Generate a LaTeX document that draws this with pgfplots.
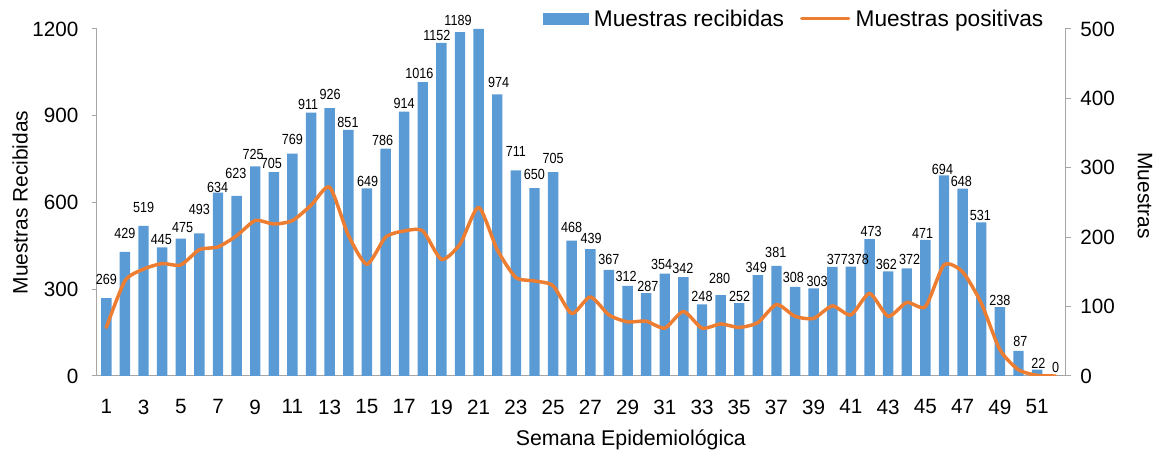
\documentclass[border=0pt]{standalone}
\usepackage{fontspec}
\setmainfont{Liberation Sans}
\newfontfamily\narrowfont[FakeStretch=0.86]{Liberation Sans}
\usepackage{pgfplots}
\usepackage{pgfplotstable}
\pgfplotsset{compat=1.18}
\definecolor{barblue}{HTML}{5B9BD5}
\definecolor{lineorange}{HTML}{ED7D31}
\definecolor{axgray}{HTML}{A6A6A6}
\pgfplotsset{/pgf/number format/assume math mode=true, /pgf/number format/1000 sep={}}

\pgfplotstableread{
wk rec pos dx dy
1 269 70 0 13.2
2 429 137 0 12.6
3 519 154 0 12.6
4 445 162 -0.8 2.3
5 475 160 1.8 5.3
6 493 182 0 18.4
7 634 186 -0.4 0
8 623 202 -0.7 16.5
9 725 224 -2 6.4
10 705 219 -2.5 2.8
11 769 224 0 9
12 911 246 -3 2.6
13 926 272 0.5 8.6
14 851 203 -0.3 2.4
15 649 161 0.6 1.6
16 786 200 -2.8 2.7
17 914 209 0 2.4
18 1016 209 -3.3 2.9
19 1152 168 -4.5 1.9
20 1189 190 -2 6.5
21 1200 243 0 0
22 974 182 1.3 6.1
23 711 142 0 13.7
24 650 137 0 8
25 705 130 0 8.1
26 468 90 0 8
27 439 114 0.8 4.8
28 367 88 0 4.9
29 312 78 -1.4 4.1
30 287 79 1.7 1.3
31 354 69 -3.2 3.6
32 342 93 -0.5 3.1
33 248 69 0 2.6
34 280 75 -1 10.7
35 252 70 0.4 1.4
36 349 77 -1.6 1.8
37 381 103 -0.7 7.5
38 308 86 -1.6 3.6
39 303 83 3.5 1.7
40 377 101 5 2
41 378 88 7.5 2
42 473 119 1.5 1.9
43 362 86 -1.7 1.3
44 372 106 2.8 3.4
45 471 100 -2.8 1.5
46 694 160 -1.5 0.3
47 648 150 -1.2 1.3
48 531 105 -0.8 1.8
49 238 38 0 1.2
50 87 9 1.8 3.5
51 22 1 1.3 1.3
52 0 0 0 3.3
}\datatable

\begin{document}
\begin{tikzpicture}
\useasboundingbox (-72.75pt,-60pt) rectangle (797.25pt,282pt);
\begin{axis}[
  at={(0pt,0pt)}, anchor=south west,
  scale only axis, width=726pt, height=260.25pt,
  xmin=0.5, xmax=52.5, ymin=0, ymax=1200,
  clip=false,
  axis x line*=bottom, axis y line*=left,
  axis line style={axgray, line width=0.75pt, -},
  xtick={1,3,...,51}, xtick style={draw=none},
  minor xtick={0.5,1.5,...,52.5},
  minor tick style={axgray, line width=0.75pt},
  minor tick length=5pt,
  ytick={0,300,...,1200},
  ytick style={axgray, line width=0.75pt},
  major tick length=3.75pt,
  tick align=outside,
  tick label style={font=\fontsize{15.5}{15.5}\selectfont, text=black},
  yticklabel style={xshift=-6.75pt},
  xticklabel style={yshift=-10.5pt},
  ylabel={Muestras Recibidas},
  ylabel style={at={(axis description cs:-0.0795,0.5)}, anchor=center, font=\fontsize{15.7}{15.7}\selectfont},
  xlabel={Semana Epidemiológica},
  xlabel style={at={(axis description cs:0.5515,-0.184)}, anchor=center, font=\fontsize{16}{16}\selectfont},
]
\addplot[ybar, bar width=0.56, fill=barblue, draw=none] table[x=wk, y=rec] {\datatable};
\addplot[draw=none, mark=none,
  skip coords between index={20}{21},
  nodes near coords={\pgfmathprintnumber[fixed,precision=0,1000 sep={},assume math mode=true]{\pgfplotspointmeta}},
  point meta=explicit,
  nodes near coords style={font=\narrowfont\fontsize{11}{11}\selectfont, text=black, anchor=south, inner sep=0pt},
  ] table[x expr=\thisrow{wk}+\thisrow{dx}/18.615, y expr=\thisrow{rec}+\thisrow{dy}*3.458, meta=rec] {\datatable};
\end{axis}
\begin{axis}[
  at={(0pt,0pt)}, anchor=south west,
  scale only axis, width=726pt, height=260.25pt,
  xmin=0.5, xmax=52.5, ymin=0, ymax=500,
  axis x line=none, axis y line*=right,
  axis line style={axgray, line width=0.75pt, -},
  ytick={0,100,...,500},
  ytick style={axgray, line width=0.75pt},
  major tick length=4.25pt,
  tick align=outside,
  tick label style={font=\fontsize{15.5}{15.5}\selectfont, text=black},
  yticklabel style={xshift=3.75pt},
  ylabel={Muestras},
  ylabel style={at={(axis description cs:1.0826,0.52)}, anchor=center, rotate=180, font=\fontsize{15.7}{15.7}\selectfont},
  legend style={at={(axis description cs:0.4605,1.0294)}, anchor=west, draw=none, fill=none, inner sep=0pt,
     font=\fontsize{17}{17}\selectfont, nodes={inner sep=0pt},
     /tikz/every odd column/.append style={column sep=4pt},
     /tikz/every even column/.append style={column sep=12pt}},
  legend columns=2, legend cell align=left,
]
\addlegendimage{legend image code/.code={\fill[barblue] (0pt,-4.1pt) rectangle (33.75pt,4.1pt);}}
\addlegendentry{Muestras recibidas}
\addplot[lineorange, line width=2.6pt, smooth, tension=0.4, line join=round, line cap=round,
  legend image code/.code={\draw[lineorange, line width=2.4pt] (0pt,0pt) -- (35.25pt,0pt);}]
  table[x=wk, y=pos] {\datatable};
\addlegendentry{Muestras positivas}
\end{axis}
\end{tikzpicture}
\end{document}
